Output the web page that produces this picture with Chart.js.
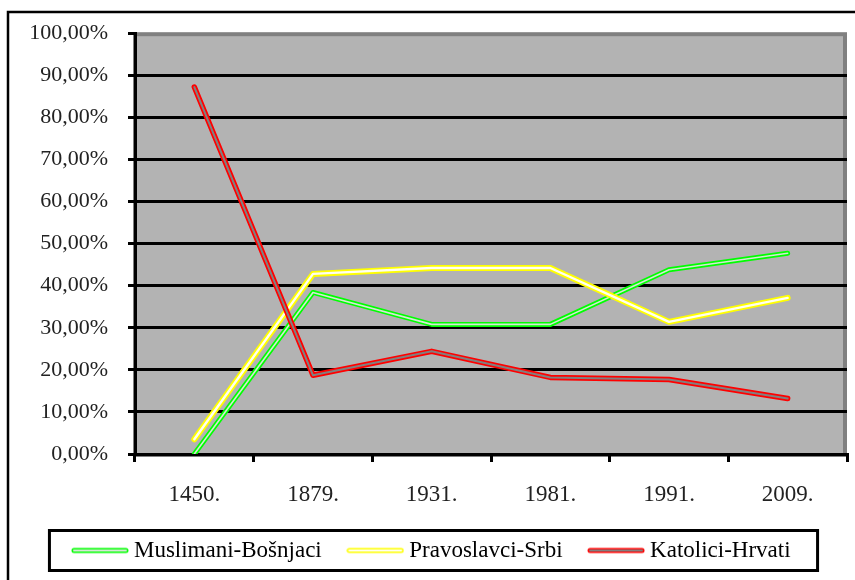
<!DOCTYPE html>
<html>
<head>
<meta charset="utf-8">
<script src="https://cdn.jsdelivr.net/npm/chart.js@4.4.1/dist/chart.umd.min.js"></script>
<style>
  html, body { margin: 0; padding: 0; background: #ffffff; }
  #wrap { width: 855px; height: 580px; position: relative; }
</style>
</head>
<body>
<div id="wrap"><canvas id="c" width="855" height="580"></canvas></div>
<script>
const categories = ['1450.', '1879.', '1931.', '1981.', '1991.', '2009.'];
const seriesNames = ['Muslimani-Bošnjaci', 'Pravoslavci-Srbi', 'Katolici-Hrvati'];
const muslimani = [0, 38.4, 30.8, 30.8, 43.8, 47.7];
const pravoslavci = [3.5, 42.8, 44.2, 44.2, 31.4, 37.1];
const katolici = [87.2, 18.7, 24.4, 18.2, 17.7, 13.2];
const yTicks = [0, 10, 20, 30, 40, 50, 60, 70, 80, 90, 100];

const styles = [
  { outer: '#00FF00', inner: '#D6E6D6', ow: 5, iw: 1.6 },
  { outer: '#FFFF00', inner: '#FFFFF2', ow: 6, iw: 2.4 },
  { outer: '#FF0000', inner: '#808080', ow: 5.5, iw: 2 }
];
const values = [muslimani, pravoslavci, katolici];
const FONT = '"Liberation Serif", "Times New Roman", serif';

function legendSample(s) {
  const cv = document.createElement('canvas');
  cv.width = 58; cv.height = 10;
  const g = cv.getContext('2d');
  g.lineCap = 'round';
  g.strokeStyle = s.outer; g.lineWidth = 5;
  g.beginPath(); g.moveTo(3, 5); g.lineTo(55, 5); g.stroke();
  g.strokeStyle = s.inner; g.lineWidth = 2;
  g.beginPath(); g.moveTo(3, 5); g.lineTo(55, 5); g.stroke();
  return cv;
}

const datasets = [];
values.forEach((arr, i) => {
  const s = styles[i];
  const baseOrder = (2 - i) * 2;
  datasets.push({
    label: seriesNames[i], data: arr, borderColor: s.outer, borderWidth: s.ow,
    pointRadius: 0, tension: 0, fill: false, borderJoinStyle: 'round', borderCapStyle: 'round',
    order: baseOrder + 1
  });
  datasets.push({
    label: seriesNames[i] + '_inner', data: arr, borderColor: s.inner, borderWidth: s.iw,
    pointRadius: 0, tension: 0, fill: false, borderJoinStyle: 'round', borderCapStyle: 'round',
    order: baseOrder
  });
});

const framePlugin = {
  id: 'frame',
  beforeDraw(chart) {
    const ctx = chart.ctx, a = chart.chartArea;
    ctx.save();
    ctx.fillStyle = '#ffffff';
    ctx.fillRect(0, 0, chart.width, chart.height);
    ctx.strokeStyle = '#000000'; ctx.lineWidth = 2.5;
    ctx.strokeRect(8, 12, 900, 700);
    ctx.fillStyle = '#B3B3B3';
    ctx.fillRect(a.left, a.top, a.right - a.left, a.bottom - a.top);
    ctx.strokeStyle = '#808080'; ctx.lineWidth = 4;
    ctx.strokeRect(a.left, a.top + 1, a.right - a.left - 2, a.bottom - a.top);
    ctx.restore();
  },
  afterDraw(chart) {
    const hb = chart.legend && chart.legend.legendHitBoxes;
    if (!hb || !hb.length) return;
    const ctx = chart.ctx;
    const first = hb[0], last = hb[hb.length - 1];
    const cy = first.top + first.height / 2;
    const x0 = first.left - 28, x1 = last.left + last.width + 27;
    ctx.save();
    ctx.strokeStyle = '#000000'; ctx.lineWidth = 3;
    ctx.strokeRect(x0, cy - 20, x1 - x0, 40);
    ctx.restore();
  }
};

new Chart(document.getElementById('c'), {
  type: 'line',
  data: { labels: categories, datasets: datasets },
  options: {
    responsive: false,
    animation: false,
    devicePixelRatio: 1,
    layout: { padding: { left: 21, right: 8, top: 26, bottom: 8 } },
    plugins: {
      tooltip: { enabled: false },
      title: { display: false },
      legend: {
        position: 'bottom',
        labels: {
          usePointStyle: true,
          pointStyleWidth: 45,
          padding: 31,
          color: '#222222',
          font: { family: FONT, size: 23 },
          generateLabels: () => seriesNames.map((n, i) => ({
            text: n, pointStyle: legendSample(styles[i]), fillStyle: styles[i].outer,
            strokeStyle: styles[i].outer, lineWidth: 0, hidden: false, datasetIndex: i * 2
          }))
        },
        onClick: () => {}
      }
    },
    scales: {
      x: {
        offset: true,
        grid: { display: true, drawOnChartArea: false, drawTicks: true, tickLength: 8, offset: true, color: '#000000', lineWidth: 3 },
        border: { display: true, color: '#000000', width: 3 },
        ticks: { color: '#222222', font: { family: FONT, size: 23 }, padding: 19, maxRotation: 0 },
        afterFit: (s) => { s.height = 54; }
      },
      y: {
        min: 0, max: 100,
        afterBuildTicks: (s) => { s.ticks = yTicks.map(v => ({ value: v })); },
        grid: {
          color: (c) => (c.tick && c.tick.value === 100 ? 'rgba(0,0,0,0)' : '#000000'),
          tickColor: '#000000', lineWidth: 3, tickLength: 7, drawTicks: true
        },
        border: { display: true, color: '#000000', width: 3 },
        ticks: {
          color: '#222222', font: { family: FONT, size: 22 }, padding: 20,
          callback: (v) => v.toFixed(2).replace('.', ',') + '%'
        },
        afterFit: (s) => { s.width = 114; }
      }
    }
  },
  plugins: [framePlugin]
});
</script>
</body>
</html>
